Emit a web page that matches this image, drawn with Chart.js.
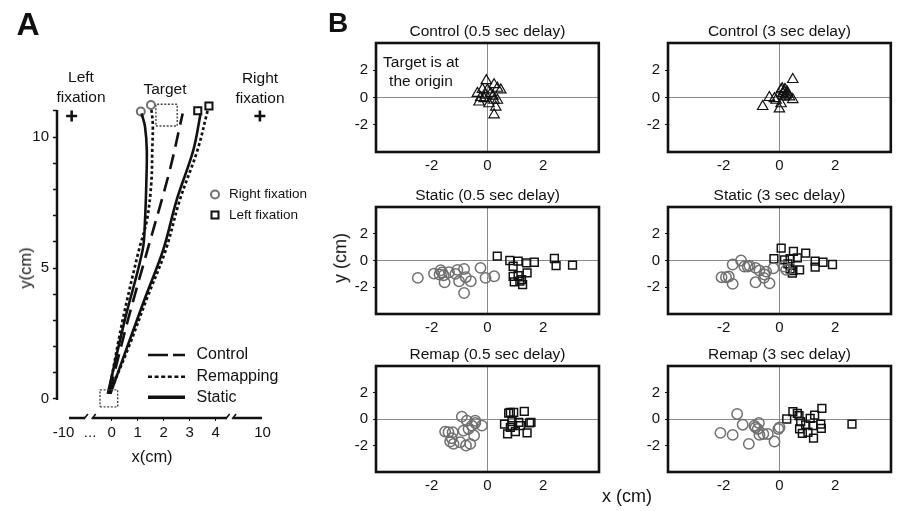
<!DOCTYPE html>
<html>
<head>
<meta charset="utf-8">
<script src="https://cdn.jsdelivr.net/npm/chart.js@4.4.0/dist/chart.umd.min.js"></script>
<style>
body { margin: 0; width: 899px; height: 511px; overflow: hidden; background: #fff; font-family: "Liberation Sans", Arial, sans-serif; color: #111; }
.wrap { position: absolute; }
.lbl { position: absolute; transform: translate(-50%, -50%); white-space: nowrap; line-height: 1.2; text-align: center; }
</style>
</head>
<body>

<div class="wrap" id="wrap-a" style="left:0;top:0;width:320px;height:511px"><canvas id="chart-a"></canvas></div>
<div class="wrap" id="wrap-c05"><canvas id="chart-c05"></canvas></div>
<div class="wrap" id="wrap-c3"><canvas id="chart-c3"></canvas></div>
<div class="wrap" id="wrap-s05"><canvas id="chart-s05"></canvas></div>
<div class="wrap" id="wrap-s3"><canvas id="chart-s3"></canvas></div>
<div class="wrap" id="wrap-r05"><canvas id="chart-r05"></canvas></div>
<div class="wrap" id="wrap-r3"><canvas id="chart-r3"></canvas></div>

<div class="lbl" style="left:28px;top:24px;font-size:32px;font-weight:bold">A</div>
<div class="lbl" style="left:338px;top:23px;font-size:28px;font-weight:bold">B</div>
<div class="lbl" style="left:81px;top:87px;font-size:15.5px;line-height:20px">Left<br>fixation</div>
<div class="lbl" style="left:165px;top:89px;font-size:15.5px">Target</div>
<div class="lbl" style="left:260px;top:88px;font-size:15.5px;line-height:20px">Right<br>fixation</div>
<div class="lbl" style="left:152px;top:457px;font-size:16.5px">x(cm)</div>
<div class="lbl" style="left:26px;top:268px;font-size:16.5px;transform:translate(-50%,-50%) rotate(-90deg)">y(cm)</div>
<div class="lbl" style="left:421px;top:71px;font-size:15.5px;line-height:18.5px">Target is at<br>the origin</div>
<div class="lbl" style="left:341px;top:258px;font-size:18px;transform:translate(-50%,-50%) rotate(-90deg)">y (cm)</div>
<div class="lbl" style="left:627px;top:497px;font-size:18px">x (cm)</div>

<script>
const FONT = '"Liberation Sans", Arial, sans-serif';
Chart.defaults.font.family = FONT;
Chart.defaults.color = "#111";

// ---------- Panel A: mean trajectories (cm) ----------
// x axis is broken: -10 and 10 are drawn at compressed positions
const xTickPosA = [-1.85, -0.83, 0, 1, 2, 3, 4, 5.8];
const xTickTextA = ["-10", "...", "0", "1", "2", "3", "4", "10"];
const yTicksA = [0, 1, 2, 3, 4, 5, 6, 7, 8, 9, 10, 11];
const xSegmentsA = [[-1.64, -1.03], [-0.73, 4.42], [4.67, 5.78]];
const yAxisSpanA = [0, 11.03];

const controlPath = [[-0.07, 0.3], [0.62, 3.0], [1.38, 5.7], [2.2, 8.6], [2.73, 10.9]];
const staticRightFixPath = [[-0.15, 0.2], [0.5, 3.0], [1.19, 5.69], [1.28, 6.8], [1.33, 8.2], [1.35, 9.5], [1.28, 10.4], [1.15, 10.9]];
const remapRightFixPath = [[-0.12, 0.2], [0.42, 3.0], [1.05, 5.7], [1.35, 6.8], [1.52, 8.2], [1.56, 9.5], [1.58, 10.5], [1.52, 11.12]];
const staticLeftFixPath = [[-0.05, 0.2], [0.6, 2.0], [1.3, 3.9], [1.98, 5.69], [2.5, 7.6], [3.14, 9.5], [3.42, 10.9]];
const remapLeftFixPath = [[-0.08, 0.2], [0.66, 2.0], [1.38, 3.9], [2.08, 5.69], [2.62, 7.6], [3.3, 9.5], [3.7, 11.05]];

const rightFixEnds = [[1.12, 10.97], [1.51, 11.22]];
const leftFixEnds = [[3.31, 11.0], [3.74, 11.18]];
const fixationCrosses = [[-1.54, 10.8], [5.7, 10.8]];
const targetBox = [[1.7, 10.42], [2.52, 10.42], [2.52, 11.25], [1.7, 11.25], [1.7, 10.42]];
const startBox = [[-0.45, -0.3], [0.23, -0.3], [0.23, 0.35], [-0.45, 0.35], [-0.45, -0.3]];

const legendLinesA = [
	{ label: "Control", dash: [20, 5], y: 355 },
	{ label: "Remapping", dash: [4, 2.6], y: 376.7 },
	{ label: "Static", dash: [], y: 397.3 },
];

// ---------- Panel B: endpoint errors (cm) ----------
const control05Pts = [[-0.04, 1.24], [-0.36, 0.3], [-0.3, -0.33], [-0.12, -0.08], [0.24, 0.94], [0.48, 0.56], [0.36, 0.68], [0.12, 0.3], [0.24, -0.2], [0.3, -0.7], [0.24, -1.27], [0, 0.56], [-0.18, 0.6], [0.06, -0.46], [0.36, -0.2], [-0.06, 0.18], [0.2, 0.1], [-0.24, 0.0]];
const control3Pts = [[0.48, 1.32], [-0.36, 0], [-0.6, -0.66], [0, -0.84], [0.06, 0.56], [0.18, 0.43], [0.3, 0.25], [0.48, -0.15], [-0.12, -0.2], [0.06, -0.46], [0.18, 0.05], [-0.18, -0.08], [0.24, 0.18], [0.12, 0.3], [0.36, 0.05], [0.1, 0.65], [0.2, 0.6], [0.28, 0.4]];

const static05RightFix = [[-2.5, -1.3], [-1.92, -0.98], [-1.68, -0.73], [-1.63, -0.9], [-1.57, -1.1], [-1.54, -1.63], [-1.38, -0.88], [-1.15, -1.0], [-1.08, -0.7], [-1.02, -1.55], [-0.84, -0.63], [-0.78, -1.25], [-0.84, -2.43], [-0.6, -1.55], [-0.25, -0.55], [-0.07, -1.3], [0.24, -1.18], [-1.72, -1.05]];
const static05LeftFix = [[0.35, 0.33], [0.8, 0], [0.92, -0.43], [1.1, -0.05], [1.4, -0.18], [1.68, -0.13], [2.4, 0.15], [2.46, -0.38], [3.05, -0.35], [1.42, -0.93], [0.92, -1.18], [1.1, -1.13], [0.96, -1.6], [1.22, -1.43], [1.26, -1.8], [1.16, -1.55]];

const static3RightFix = [[-2.08, -1.25], [-1.92, -1.25], [-1.82, -1.2], [-1.68, -1.75], [-1.68, -0.3], [-1.38, 0], [-1.26, -0.45], [-1.14, -0.45], [-0.86, -0.55], [-0.72, -0.75], [-0.86, -1.63], [-0.54, -1.05], [-0.56, -1.3], [-0.36, -1.7], [-0.22, -0.58], [-1.08, -0.38], [-0.48, -0.83], [0.16, -0.45], [0.24, -0.7]];
const static3LeftFix = [[0.06, 0.93], [-0.2, 0.13], [0.18, 0.05], [0.5, 0.68], [0.94, 0.55], [0.64, 0.2], [0.38, 0.13], [1.28, -0.05], [1.28, -0.5], [1.56, -0.13], [1.9, -0.3], [0.38, -0.63], [0.46, -0.95], [0.72, -0.7], [0.48, -0.75], [0.3, -0.25]];

const remap05RightFix = [[-0.92, 0.18], [-0.74, -0.13], [-0.44, -0.13], [-0.2, -0.5], [-0.44, -0.3], [-0.56, -0.5], [-0.68, -0.75], [-0.86, -0.88], [-1.52, -0.95], [-1.4, -1.0], [-1.25, -1.0], [-1.34, -1.7], [-1.22, -1.88], [-0.98, -1.75], [-0.77, -2.0], [-0.62, -1.88], [-0.48, -1.25], [-1.28, -1.45]];
const remap05LeftFix = [[0.82, 0.5], [0.94, 0.5], [1.32, 0.58], [0.61, -0.38], [0.88, -0.2], [1.12, -0.25], [0.82, -0.63], [0.72, -1.13], [1.0, -0.95], [1.42, -1.05], [1.51, -0.3], [1.56, -0.25], [1.18, -0.5], [0.76, 0.45], [0.88, -0.5]];

const remap3RightFix = [[-2.12, -1.05], [-1.68, -1.2], [-1.52, 0.38], [-1.32, -0.43], [-0.9, -0.5], [-0.74, -0.3], [-0.78, -0.75], [-1.1, -1.88], [-0.72, -1.2], [-0.58, -1.13], [-0.42, -1.13], [-0.18, -1.7], [-0.04, -0.75], [0, -0.63], [-0.86, -0.63]];
const remap3LeftFix = [[0.26, 0], [0.48, 0.55], [0.64, 0.43], [0.7, 0.25], [0.76, -0.2], [0.72, -0.75], [0.82, -1.08], [1.02, -1.0], [1.1, 0.05], [1.26, 0.3], [1.52, 0.8], [1.48, -0.38], [1.5, -0.7], [1.22, -1.45], [1.2, -0.5], [2.6, -0.38], [0.94, -0.45]];

const GRAY = "#707070";
const toXY = (pts) => pts.map(([x, y]) => ({ x: x, y: y }));

function pathSet(pts, dash, width, color, tension) {
	return {
		data: toXY(pts),
		showLine: true,
		borderColor: color || "#111",
		borderWidth: width,
		borderDash: dash,
		pointRadius: 0,
		tension: tension === undefined ? 0.35 : tension,
		fill: false,
	};
}

function markSet(pts, shape, radius, color, width) {
	return {
		data: toXY(pts),
		showLine: false,
		pointStyle: shape,
		pointRadius: radius,
		borderColor: color,
		borderWidth: width,
		backgroundColor: "rgba(0,0,0,0)",
	};
}

// axis lines of panel A (broken x axis, y axis ends at 0)
const axisLinesA = {
	id: "axisLinesA",
	afterDraw(chart) {
		const { ctx, chartArea, scales } = chart;
		ctx.save();
		ctx.strokeStyle = "#111";
		ctx.lineWidth = 2.5;
		ctx.beginPath();
		ctx.moveTo(chartArea.left, scales.y.getPixelForValue(yAxisSpanA[0]) + 1);
		ctx.lineTo(chartArea.left, scales.y.getPixelForValue(yAxisSpanA[1]));
		ctx.stroke();

		const py = chartArea.bottom;
		xSegmentsA.forEach(([a, b], i) => {
			const pa = scales.x.getPixelForValue(a);
			const pb = scales.x.getPixelForValue(b);
			ctx.lineWidth = 2.5;
			ctx.beginPath();
			ctx.moveTo(pa, py);
			ctx.lineTo(pb, py);
			ctx.stroke();
			ctx.lineWidth = 1.6;
			if (i > 0) {
				ctx.beginPath();
				ctx.moveTo(pa - 1, py + 1);
				ctx.lineTo(pa + 3, py - 4);
				ctx.stroke();
			}
			if (i < xSegmentsA.length - 1) {
				ctx.beginPath();
				ctx.moveTo(pb - 1, py + 1);
				ctx.lineTo(pb + 3, py - 4);
				ctx.stroke();
			}
		});
		ctx.restore();
	},
};

// legend of panel A
const legendA = {
	id: "legendA",
	afterDraw(chart) {
		const ctx = chart.ctx;
		ctx.save();
		ctx.textBaseline = "middle";
		ctx.fillStyle = "#111";

		ctx.lineWidth = 2;
		ctx.strokeStyle = GRAY;
		ctx.beginPath();
		ctx.arc(215, 194.5, 4, 0, Math.PI * 2);
		ctx.stroke();
		ctx.strokeStyle = "#111";
		ctx.strokeRect(211.5, 211.5, 7, 7);
		ctx.font = "13.5px " + FONT;
		ctx.fillText("Right fixation", 229, 194.5);
		ctx.fillText("Left fixation", 229, 215.5);

		ctx.font = "16px " + FONT;
		legendLinesA.forEach((item) => {
			ctx.lineWidth = item.dash.length ? 2.6 : 3.4;
			ctx.setLineDash(item.dash);
			ctx.beginPath();
			ctx.moveTo(148, item.y);
			ctx.lineTo(185, item.y);
			ctx.stroke();
			ctx.setLineDash([]);
			ctx.fillText(item.label, 196.5, item.y);
		});
		ctx.restore();
	},
};

new Chart(document.getElementById("chart-a"), {
	type: "scatter",
	data: {
		datasets: [
			pathSet(startBox, [2, 1.6], 1.4, "#444", 0),
			pathSet(targetBox, [2, 1.6], 1.4, "#444", 0),
			pathSet(controlPath, [15, 8], 2.6),
			pathSet(remapRightFixPath, [3, 2.6], 2.7),
			pathSet(remapLeftFixPath, [3, 2.6], 2.7),
			pathSet(staticRightFixPath, [], 2.6),
			pathSet(staticLeftFixPath, [], 2.6),
			markSet(rightFixEnds, "circle", 4, GRAY, 2),
			markSet(leftFixEnds, "rect", 5, "#111", 2),
			markSet(fixationCrosses, "cross", 5.5, "#111", 2.6),
		],
	},
	options: {
		responsive: true,
		maintainAspectRatio: false,
		animation: false,
		layout: { padding: { top: 60, right: 20, left: 0, bottom: 0 } },
		plugins: { legend: { display: false }, tooltip: { enabled: false } },
		scales: {
			x: {
				min: -2.1038,
				max: 7.2423,
				afterBuildTicks: (scale) => { scale.ticks = xTickPosA.map((v) => ({ value: v })); },
				afterFit: (scale) => { scale.height = 93; },
				ticks: {
					autoSkip: false,
					maxRotation: 0,
					padding: 3,
					font: { size: 15 },
					color: "#111",
					callback: (value, index) => xTickTextA[index],
				},
				grid: {
					drawOnChartArea: false,
					tickLength: 3,
					tickColor: (ctx) => (Number.isInteger(ctx.tick.value) ? "#111" : "rgba(0,0,0,0)"),
				},
				border: { display: false },
			},
			y: {
				min: -0.7252,
				max: 12.939,
				afterBuildTicks: (scale) => { scale.ticks = yTicksA.map((v) => ({ value: v })); },
				afterFit: (scale) => { scale.width = 57; },
				ticks: {
					autoSkip: false,
					padding: 4,
					font: { size: 15 },
					color: "#111",
					callback: (value) => (value % 5 === 0 ? value : ""),
				},
				grid: { drawOnChartArea: false, tickLength: 4, tickColor: "#111", tickWidth: 1.5 },
				border: { display: false },
			},
		},
	},
	plugins: [axisLinesA, legendA],
});

// ---------- Panel B subplots ----------
const frame = {
	id: "frame",
	afterDraw(chart) {
		const { ctx, chartArea: { left, top, right, bottom } } = chart;
		ctx.save();
		ctx.strokeStyle = "#111";
		ctx.lineWidth = 2.6;
		ctx.strokeRect(left, top, right - left, bottom - top);
		ctx.restore();
	},
};

const zeroGrid = (ctx) => (ctx.tick && ctx.tick.value === 0 ? "#8a8a8a" : "rgba(0,0,0,0)");

function subplot(id, title, box, datasets) {
	const wrap = document.getElementById("wrap-" + id);
	wrap.style.left = box[0] - 45 + "px";
	wrap.style.top = box[1] - 32 + "px";
	wrap.style.width = box[2] + 45 + 6 + "px";
	wrap.style.height = box[3] + 32 + 26 + "px";

	new Chart(document.getElementById("chart-" + id), {
		type: "scatter",
		data: { datasets: datasets },
		options: {
			responsive: true,
			maintainAspectRatio: false,
			animation: false,
			layout: { padding: { left: 0, right: 6, top: 0, bottom: 0 } },
			plugins: {
				legend: { display: false },
				tooltip: { enabled: false },
				title: {
					display: true,
					text: title,
					fullSize: false,
					color: "#111",
					font: { size: 15.5, weight: "normal" },
					padding: { top: 11.4, bottom: 2 },
				},
			},
			scales: {
				x: {
					min: -4,
					max: 4,
					afterFit: (scale) => { scale.height = 26; },
					ticks: {
						stepSize: 2,
						padding: 2,
						font: { size: 15 },
						color: "#111",
						callback: (v) => (Math.abs(v) === 4 ? "" : v),
					},
					grid: { color: zeroGrid, lineWidth: 1, tickLength: 3, tickColor: "rgba(0,0,0,0)" },
					border: { display: false },
				},
				y: {
					min: -4,
					max: 4,
					afterFit: (scale) => { scale.width = 45; },
					ticks: {
						stepSize: 2,
						padding: 5,
						font: { size: 15 },
						color: "#111",
						callback: (v) => (Math.abs(v) === 4 ? "" : v),
					},
					grid: {
						color: zeroGrid,
						lineWidth: 1,
						tickLength: 3,
						tickColor: (ctx) => (Math.abs(ctx.tick.value) === 4 ? "rgba(0,0,0,0)" : "#111"),
					},
					border: { display: false },
				},
			},
		},
		plugins: [frame],
	});
}

const triangles = (pts) => markSet(pts, "triangle", 6, "#111", 1.2);
const circles = (pts) => markSet(pts, "circle", 5.2, GRAY, 1.5);
const squares = (pts) => markSet(pts, "rect", 5.5, "#111", 1.5);

subplot("c05", "Control (0.5 sec delay)", [375.5, 43, 224, 109], [triangles(control05Pts)]);
subplot("c3", "Control (3 sec delay)", [668, 43, 224, 109], [triangles(control3Pts)]);
subplot("s05", "Static (0.5 sec delay)", [375.5, 207, 224, 107], [circles(static05RightFix), squares(static05LeftFix)]);
subplot("s3", "Static (3 sec delay)", [668, 207, 224, 107], [circles(static3RightFix), squares(static3LeftFix)]);
subplot("r05", "Remap (0.5 sec delay)", [375.5, 366, 224, 106], [circles(remap05RightFix), squares(remap05LeftFix)]);
subplot("r3", "Remap (3 sec delay)", [668, 366, 224, 106], [circles(remap3RightFix), squares(remap3LeftFix)]);
</script>
</body>
</html>
